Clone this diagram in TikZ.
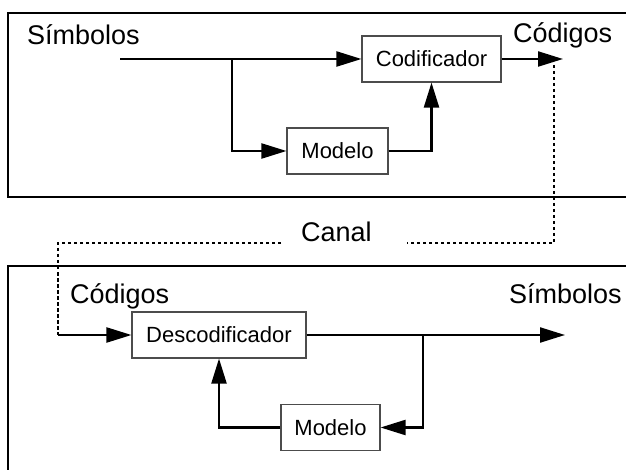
\documentclass[tikz,border=0pt]{standalone}
\usepackage{fontspec}
\setmainfont{Liberation Sans}
\usetikzlibrary{arrows.meta}
\begin{document}
\begin{tikzpicture}[x=1pt,y=-1pt,
  blk/.style={draw=black!70, line width=1.1pt, minimum width=#1, minimum height=46pt, inner sep=0pt, font=\fontsize{22}{26}\selectfont},
  lbl/.style={anchor=base west, inner sep=0pt, font=\fontsize{27}{32}\selectfont},
  conn/.style={line width=2.2pt, -{Triangle[length=25pt,width=15pt]}},
  frame/.style={line width=2pt},
  dots/.style={line width=1.8pt, dash pattern=on 3.5pt off 2.5pt}]
\useasboundingbox (0,0) rectangle (626,470);
% frames
\draw[frame] (630,13) -- (8,13) -- (8,197) -- (630,197);
\draw[frame] (630,266) -- (8,266) -- (8,475);
% labels
\node[lbl] (sym1) at (27,45) {Símbolos};
\node[lbl] (cod1) at (513,43) {Códigos};
\node[lbl] (canal) at (301,242) {Canal};
\node[lbl] (cod2) at (70,303) {Códigos};
\node[lbl] (sym2) at (509,303) {Símbolos};
% blocks
\node[blk=139pt] (enc) at (431.5,59) {Codificador};
\node[blk=101pt] (mod1) at (337.5,151) {Modelo};
\node[blk=174pt] (dec) at (219,335) {Descodificador};
\node[blk=99pt] (mod2) at (330.5,427.5) {Modelo};
% coordinates
\coordinate (in1) at (120,59);
\coordinate (br1) at (232,59);
\coordinate (out1) at (563,59);
\coordinate (d1) at (554,65);
\coordinate (d2) at (554,243);
\coordinate (c1) at (407,243);
\coordinate (c2) at (281,243);
\coordinate (d3) at (58,243);
\coordinate (d4) at (58,335);
\coordinate (br2) at (423,335);
\coordinate (out2) at (565,335);
% top connectors
\draw[conn] (in1) -- (enc.west);
\draw[conn] (br1) |- (mod1.west);
\draw[conn] (mod1.east) -| (enc.south);
\draw[conn] (enc.east) -- (out1);
% channel
\draw[dots] (d1) -- (d2) -- (c1);
\draw[dots] (c2) -- (d3) -- (d4);
% bottom connectors
\draw[conn] (d4) -- (dec.west);
\draw[conn] (dec.east) -- (out2);
\draw[conn] (br2) |- (mod2.east);
\draw[conn] (mod2.west) -| (dec.south);
\end{tikzpicture}
\end{document}
